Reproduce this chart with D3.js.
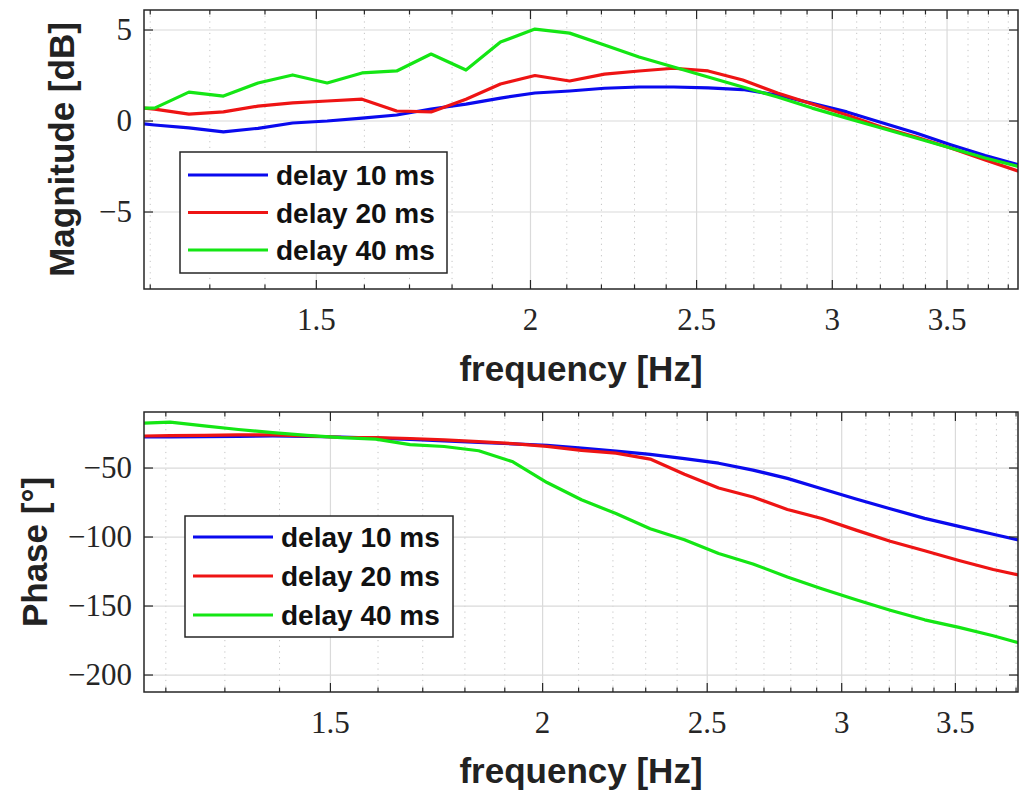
<!DOCTYPE html>
<html>
<head>
<meta charset="utf-8">
<script src="https://cdn.jsdelivr.net/npm/d3@7"></script>
<style>
  html, body { margin: 0; padding: 0; background: #fff; }
  svg { display: block; }
</style>
</head>
<body>
<svg id="chart" width="1024" height="791"></svg>
<script>
// Frequency points (Hz) for the magnitude plot
const magFreq = [1.19, 1.207, 1.264, 1.324, 1.387, 1.453, 1.522, 1.595, 1.671, 1.750, 1.834,
  1.921, 2.012, 2.108, 2.209, 2.314, 2.424, 2.539, 2.660, 2.787, 2.920, 3.059, 3.204,
  3.357, 3.517, 3.684, 3.859];
// Magnitude [dB] per loop delay
const magDelay10 = [-0.16, -0.22, -0.38, -0.60, -0.40, -0.11, 0.00, 0.16, 0.33, 0.66, 0.93,
  1.26, 1.54, 1.65, 1.80, 1.87, 1.87, 1.82, 1.73, 1.43, 0.97, 0.50, -0.08,
  -0.66, -1.30, -1.90, -2.42];
const magDelay20 = [0.71, 0.65, 0.38, 0.50, 0.82, 1.00, 1.10, 1.20, 0.55, 0.50, 1.20,
  2.03, 2.50, 2.20, 2.58, 2.75, 2.90, 2.75, 2.25, 1.54, 0.93, 0.33, -0.33,
  -0.88, -1.48, -2.14, -2.78];
const magDelay40 = [0.71, 0.71, 1.59, 1.37, 2.09, 2.53, 2.09, 2.64, 2.75, 3.68, 2.80,
  4.34, 5.05, 4.83, 4.18, 3.52, 2.97, 2.42, 1.87, 1.32, 0.71, 0.16, -0.38,
  -0.93, -1.48, -2.03, -2.52];

// Frequency points (Hz) for the phase plot
const phaseFreq = [1.165, 1.207, 1.264, 1.324, 1.387, 1.453, 1.522, 1.595, 1.671, 1.750, 1.834,
  1.921, 2.012, 2.108, 2.209, 2.314, 2.424, 2.539, 2.660, 2.787, 2.920, 3.059, 3.204,
  3.357, 3.517, 3.684, 3.859];
// Phase [deg] per loop delay
const phaseDelay10 = [-27.5, -27.5, -27.2, -27.0, -26.8, -27.0, -27.5, -28.3, -29.3, -30.3, -31.5,
  -32.5, -33.5, -35.6, -37.8, -40.1, -43.2, -46.5, -51.5, -57.5, -65.0, -72.5, -79.5,
  -86.5, -92.3, -98.0, -103.5];
const phaseDelay20 = [-26.8, -26.5, -26.3, -26.0, -26.0, -26.8, -27.7, -28.0, -28.6, -29.6, -30.9,
  -32.3, -34.3, -37.2, -39.2, -43.5, -54.5, -64.5, -71.0, -80.0, -86.6, -95.0, -103.0,
  -110.0, -117.0, -123.5, -129.0];
const phaseDelay40 = [-17.4, -16.7, -19.5, -22.1, -24.4, -26.3, -28.0, -29.0, -33.0, -34.4, -37.5,
  -45.5, -60.5, -73.0, -83.0, -94.0, -102.0, -112.0, -119.5, -129.0, -137.5, -145.5, -153.0,
  -160.0, -165.5, -171.5, -178.5];

const seriesNames = ["delay 10 ms", "delay 20 ms", "delay 40 ms"];
const seriesColors = ["#0a0aee", "#ee1414", "#14e614"];

const xTickValues = [1.5, 2, 2.5, 3, 3.5];
const xMinorValues = [1.2, 1.3, 1.4, 1.6, 1.7, 1.8, 1.9, 2.1, 2.2, 2.3, 2.4, 2.6, 2.7, 2.8, 2.9,
  3.1, 3.2, 3.3, 3.4, 3.6, 3.7, 3.8];
const magTicks = [-5, 0, 5];
const phaseTicks = [-200, -150, -100, -50];

const svg = d3.select("#chart");
const fmtMinus = d => (d < 0 ? "\u2212" + Math.abs(d) : String(d));

function drawPanel(cfg) {
  const { id, top, bottom, left, right, xDomain, yDomain, yTicks, freq, series,
          yLabel, yLabelX, xLabelY, legend } = cfg;
  const x = d3.scaleLog().domain(xDomain).range([left, right]);
  const y = d3.scaleLinear().domain(yDomain).range([bottom, top]);
  const g = svg.append("g");

  g.append("clipPath").attr("id", "clip-" + id)
    .append("rect").attr("x", left).attr("y", top)
    .attr("width", right - left).attr("height", bottom - top);

  // minor vertical grid (dotted)
  g.append("g").selectAll("line").data(xMinorValues.filter(v => v > xDomain[0] && v < xDomain[1]))
    .join("line")
    .attr("x1", d => x(d)).attr("x2", d => x(d))
    .attr("y1", top).attr("y2", bottom)
    .attr("stroke", "#c4c4c4").attr("stroke-width", 1)
    .attr("stroke-dasharray", "1.2,4.5");

  // major grid
  g.append("g").selectAll("line").data(xTickValues).join("line")
    .attr("x1", d => x(d)).attr("x2", d => x(d))
    .attr("y1", top).attr("y2", bottom)
    .attr("stroke", "#dadada").attr("stroke-width", 1.2);
  g.append("g").selectAll("line").data(yTicks).join("line")
    .attr("x1", left).attr("x2", right)
    .attr("y1", d => y(d)).attr("y2", d => y(d))
    .attr("stroke", "#dadada").attr("stroke-width", 1.2);

  // data lines
  const line = d3.line().x(d => x(d[0])).y(d => y(d[1]));
  g.append("g").attr("clip-path", `url(#clip-${id})`)
    .selectAll("path").data(series).join("path")
    .attr("d", s => line(freq.map((f, i) => [f, s[i]])))
    .attr("fill", "none")
    .attr("stroke", (s, i) => seriesColors[i])
    .attr("stroke-width", 3.2)
    .attr("stroke-linejoin", "round");

  // tick marks (inside, all four sides)
  const tk = g.append("g").attr("stroke", "#262626").attr("stroke-width", 1.2);
  xTickValues.forEach(v => {
    tk.append("line").attr("x1", x(v)).attr("x2", x(v)).attr("y1", bottom).attr("y2", bottom - 9);
    tk.append("line").attr("x1", x(v)).attr("x2", x(v)).attr("y1", top).attr("y2", top + 9);
  });
  xMinorValues.filter(v => v > xDomain[0] && v < xDomain[1]).forEach(v => {
    tk.append("line").attr("x1", x(v)).attr("x2", x(v)).attr("y1", bottom).attr("y2", bottom - 4.5);
    tk.append("line").attr("x1", x(v)).attr("x2", x(v)).attr("y1", top).attr("y2", top + 4.5);
  });
  yTicks.forEach(v => {
    tk.append("line").attr("x1", left).attr("x2", left + 9).attr("y1", y(v)).attr("y2", y(v));
    tk.append("line").attr("x1", right).attr("x2", right - 9).attr("y1", y(v)).attr("y2", y(v));
  });

  // box
  g.append("rect").attr("x", left).attr("y", top)
    .attr("width", right - left).attr("height", bottom - top)
    .attr("fill", "none").attr("stroke", "#262626").attr("stroke-width", 1.5);

  // tick labels
  g.append("g").selectAll("text").data(xTickValues).join("text")
    .attr("x", d => x(d)).attr("y", bottom + 41)
    .attr("text-anchor", "middle")
    .attr("font-family", "'Liberation Serif', 'DejaVu Serif', serif")
    .attr("font-size", 31).attr("fill", "#262626")
    .text(d => d);
  g.append("g").selectAll("text").data(yTicks).join("text")
    .attr("x", left - 12).attr("y", d => y(d) + 10)
    .attr("text-anchor", "end")
    .attr("font-family", "'Liberation Serif', 'DejaVu Serif', serif")
    .attr("font-size", 31).attr("fill", "#262626")
    .text(fmtMinus);

  // axis titles
  g.append("text")
    .attr("x", (left + right) / 2).attr("y", xLabelY)
    .attr("text-anchor", "middle")
    .attr("font-family", "'Liberation Sans', Arial, sans-serif")
    .attr("font-weight", "bold").attr("font-size", 35).attr("fill", "#222")
    .text("frequency [Hz]");
  g.append("text")
    .attr("transform", `translate(${yLabelX},${(top + bottom) / 2}) rotate(-90)`)
    .attr("text-anchor", "middle")
    .attr("font-family", "'Liberation Sans', Arial, sans-serif")
    .attr("font-weight", "bold").attr("font-size", 35).attr("fill", "#222")
    .text(yLabel);

  // legend
  const lg = g.append("g");
  lg.append("rect").attr("x", legend.x).attr("y", legend.y)
    .attr("width", legend.w).attr("height", legend.h)
    .attr("fill", "#fff").attr("stroke", "#262626").attr("stroke-width", 1.5);
  seriesNames.forEach((name, i) => {
    const cy = legend.y + legend.first + i * legend.step;
    lg.append("line")
      .attr("x1", legend.x + 8).attr("x2", legend.x + 88)
      .attr("y1", cy).attr("y2", cy)
      .attr("stroke", seriesColors[i]).attr("stroke-width", 3.2);
    lg.append("text")
      .attr("x", legend.x + 96).attr("y", cy + 10)
      .attr("font-family", "'Liberation Sans', Arial, sans-serif")
      .attr("font-weight", "bold").attr("font-size", 28).attr("fill", "#111")
      .text(name);
  });
}

drawPanel({
  id: "mag", top: 10, bottom: 289, left: 144, right: 1018,
  xDomain: [1.19, 3.85], yDomain: [-9.23, 6.1], yTicks: magTicks,
  freq: magFreq, series: [magDelay10, magDelay20, magDelay40],
  yLabel: "Magnitude [dB]", yLabelX: 74, xLabelY: 381,
  legend: { x: 180, y: 152, w: 267, h: 121, first: 23, step: 37.5 }
});

drawPanel({
  id: "phase", top: 412, bottom: 692, left: 144, right: 1018,
  xDomain: [1.165, 3.81], yDomain: [-212.3, -9.4], yTicks: phaseTicks,
  freq: phaseFreq, series: [phaseDelay10, phaseDelay20, phaseDelay40],
  yLabel: "Phase [\u00b0]", yLabelX: 47, xLabelY: 783,
  legend: { x: 185, y: 516, w: 268, h: 121, first: 21, step: 39 }
});
</script>
</body>
</html>
